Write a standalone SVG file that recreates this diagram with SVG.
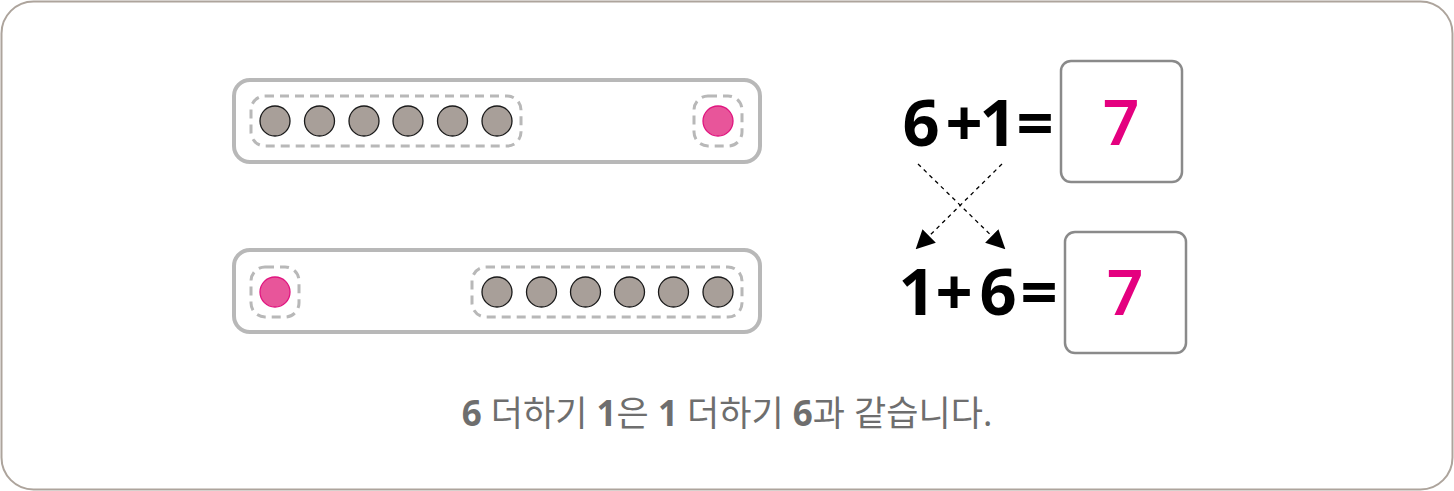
<svg xmlns="http://www.w3.org/2000/svg" width="1454" height="491" viewBox="0 0 1454 491">
<style>
.bar{fill:#fff;stroke:#b8b8b8;stroke-width:4}
.grp{fill:none;stroke:#b8b8b8;stroke-width:3;stroke-dasharray:9 6}
.bead{fill:#a89f99;stroke:#1a1a1a;stroke-width:1.3}
.pink{fill:#e8559a;stroke:#e0147f;stroke-width:1.3}
.eq{font-family:"Noto Sans","Open Sans",sans-serif;font-weight:700;font-size:65px;fill:#000;text-anchor:middle}
.ans{font-family:"Noto Sans","Open Sans",sans-serif;font-weight:600;font-size:64px;fill:#e4007f;text-anchor:middle}
.box{fill:#fff;stroke:#8a8a8a;stroke-width:2.5}
.link{stroke:#000;stroke-width:1.3;stroke-dasharray:4 4;fill:none}
.cap{font-family:"Noto Sans","Noto Sans CJK KR",sans-serif;font-size:35px;fill:#6e6e6e}
</style>
<defs>
<marker id="ah" viewBox="0 0 10 10" refX="9" refY="5" markerWidth="19" markerHeight="19" markerUnits="userSpaceOnUse" orient="auto">
<path d="M0,0 L10,5 L0,10 z" fill="#000"/>
</marker>
</defs>
<rect x="1.5" y="1.5" width="1451" height="488" rx="32" fill="#fff" stroke="#ada49c" stroke-width="2"/>
<g id="bar-top">
<rect class="bar" x="234" y="80" width="526" height="82" rx="16"/>
<rect class="grp" x="251" y="96" width="270" height="50" rx="14"/>
<circle class="bead" cx="275" cy="121" r="15"/>
<circle class="bead" cx="319.5" cy="121" r="15"/>
<circle class="bead" cx="364" cy="121" r="15"/>
<circle class="bead" cx="408" cy="121" r="15"/>
<circle class="bead" cx="452.5" cy="121" r="15"/>
<circle class="bead" cx="497" cy="121" r="15"/>
<rect class="grp" x="694" y="96" width="48" height="50" rx="14"/>
<circle class="pink" cx="718" cy="121" r="15"/>
</g>
<g id="bar-bottom">
<rect class="bar" x="234" y="250" width="526" height="82" rx="16"/>
<rect class="grp" x="251" y="267" width="48" height="50" rx="14"/>
<circle class="pink" cx="275" cy="292" r="15"/>
<rect class="grp" x="472" y="267" width="270" height="50" rx="14"/>
<circle class="bead" cx="497" cy="292" r="15"/>
<circle class="bead" cx="541.5" cy="292" r="15"/>
<circle class="bead" cx="585.5" cy="292" r="15"/>
<circle class="bead" cx="629.5" cy="292" r="15"/>
<circle class="bead" cx="673.5" cy="292" r="15"/>
<circle class="bead" cx="718" cy="292" r="15"/>
</g>
<g id="eq-top">
<text class="eq" x="921" y="146">6</text>
<text class="eq" x="964" y="146">+</text>
<text class="eq" x="998" y="146">1</text>
<text class="eq" x="1035" y="146">=</text>
</g>
<g id="answer-top">
<rect class="box" x="1061" y="61" width="121" height="121" rx="10"/>
<text class="ans" x="1121" y="145">7</text>
</g>
<g id="eq-bottom">
<text class="eq" x="917" y="315">1</text>
<text class="eq" x="954" y="315">+</text>
<text class="eq" x="998" y="315">6</text>
<text class="eq" x="1039" y="315">=</text>
</g>
<g id="answer-bottom">
<rect class="box" x="1065" y="232" width="121" height="121" rx="10"/>
<text class="ans" x="1125" y="315">7</text>
</g>
<g id="connectors">
<line class="link" x1="918" y1="164" x2="1004" y2="248" marker-end="url(#ah)"/>
<line class="link" x1="1002" y1="164" x2="917" y2="248" marker-end="url(#ah)"/>
</g>
<g id="caption">
<text class="cap" x="727" y="426" text-anchor="middle"><tspan font-weight="700">6</tspan> 더하기 <tspan font-weight="700">1</tspan>은 <tspan font-weight="700">1</tspan> 더하기 <tspan font-weight="700">6</tspan>과 같습니다.</text>
</g>
</svg>
